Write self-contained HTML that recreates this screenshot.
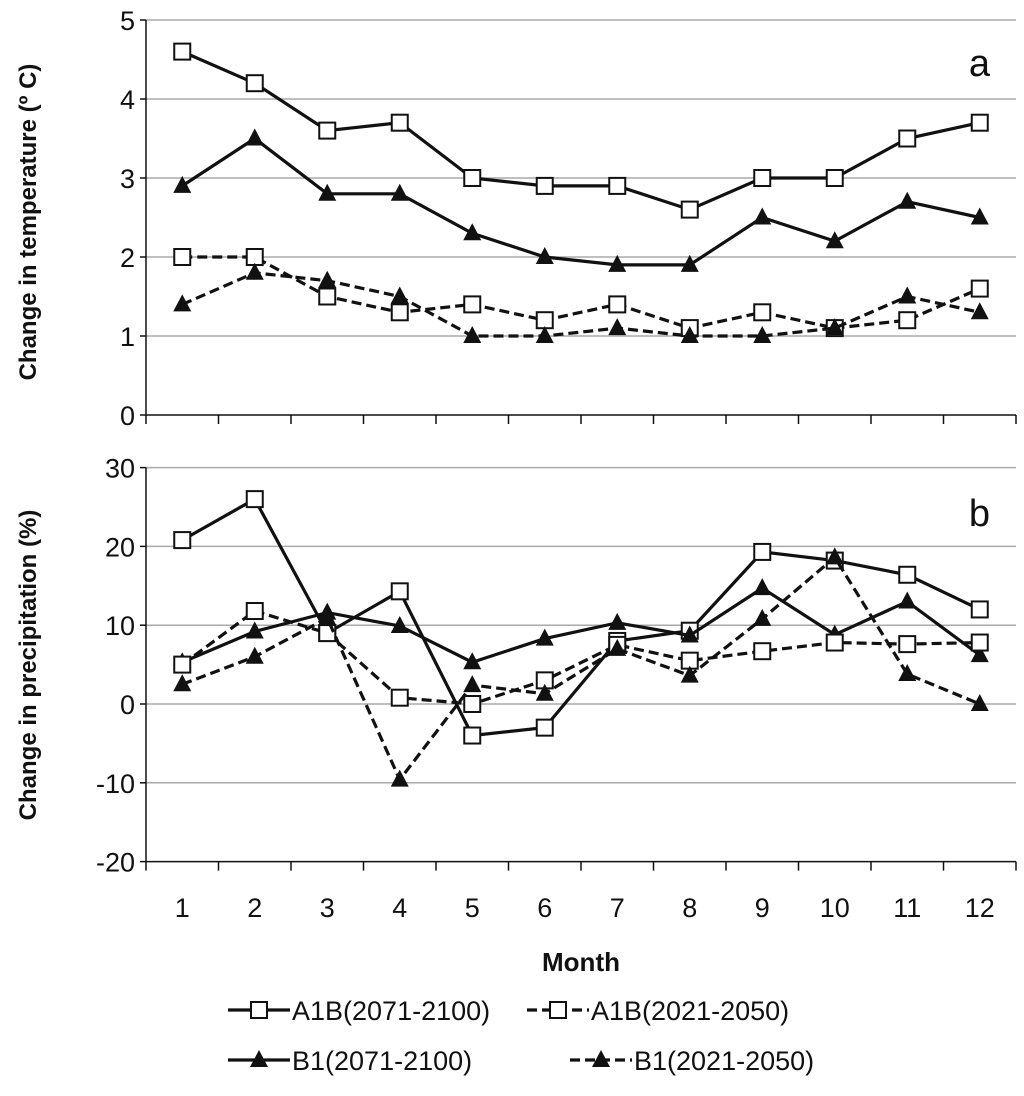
<!DOCTYPE html>
<html><head><meta charset="utf-8"><style>
body{margin:0;background:#fff}
text{font-family:"Liberation Sans",sans-serif;fill:#111}
</style></head><body>
<svg id="c" width="1024" height="1091"></svg>
<script>
const months=[1,2,3,4,5,6,7,8,9,10,11,12];
const tempTicks=[0,1,2,3,4,5];
const precTicks=[-20,-10,0,10,20,30];
const tA1B2071=[4.6,4.2,3.6,3.7,3.0,2.9,2.9,2.6,3.0,3.0,3.5,3.7];
const tB12071=[2.9,3.5,2.8,2.8,2.3,2.0,1.9,1.9,2.5,2.2,2.7,2.5];
const tA1B2021=[2.0,2.0,1.5,1.3,1.4,1.2,1.4,1.1,1.3,1.1,1.2,1.6];
const tB12021=[1.4,1.8,1.7,1.5,1.0,1.0,1.1,1.0,1.0,1.1,1.5,1.3];
const pA1B2071=[20.8,26,9,14.3,-4,-3,8,9.3,19.3,18.2,16.4,12];
const pA1B2021=[5,11.8,9,0.8,0,3,7.5,5.5,6.7,7.8,7.6,7.8];
const pB12071=[5.3,9.2,11.6,9.9,5.3,8.3,10.3,8.7,14.7,8.8,13,6.2];
const pB12021=[2.5,6,10.9,-9.6,2.4,1.3,7,3.6,10.8,18.6,3.8,0];
const NS="http://www.w3.org/2000/svg",svg=document.getElementById('c');
function el(t,a,p){const e=document.createElementNS(NS,t);for(const k in a)e.setAttribute(k,a[k]);(p||svg).appendChild(e);return e;}
const L=146,R=1016,cw=(R-L)/12;
const x=i=>L+cw*(i+0.5);
const yT=v=>415-v*79, yP=v=>704-v*7.88;
function panel(name,ticks,y,series,letter,ly,title,ty){
 const g=el('g',{});
 
 
 ticks.forEach(t=>{
  if(t!==ticks[0]){const gl=el('line',{x1:L,x2:R,y1:y(t),y2:y(t),stroke:'#aaa','stroke-width':1.5},g);
   }
  el('line',{x1:L-6,x2:L,y1:y(t),y2:y(t),stroke:'#111','stroke-width':1.5},g);
  const tx=el('text',{x:L-11,y:y(t)+10,'text-anchor':'end','font-size':27},g);tx.textContent=t;
  
 });
 const b=ticks[0];
 el('line',{x1:L,x2:L,y1:y(ticks[ticks.length-1]),y2:y(b),stroke:'#111','stroke-width':1.5},g);
 el('line',{x1:L,x2:R,y1:y(b),y2:y(b),stroke:'#111','stroke-width':1.5},g);
 for(let i=0;i<=12;i++)el('line',{x1:L+cw*i,x2:L+cw*i,y1:y(b),y2:y(b)+9,stroke:'#111','stroke-width':1.5},g);
 series.forEach(s=>{
  const sg=el('g',{},g);
  
  el('polyline',{points:s.d.map((v,i)=>x(i)+','+y(v)).join(' '),fill:'none',stroke:'#111','stroke-width':3.2,'stroke-dasharray':s.dash?'10,5':'none'},sg);
  s.d.forEach((v,i)=>marker(s.m,x(i),y(v),sg));
 });
 const lt=el('text',{x:990,y:ly,'text-anchor':'end','font-size':38},g);lt.textContent=letter;
 
 const yt=el('text',{x:0,y:0,'text-anchor':'middle','font-size':24,'font-weight':'bold',transform:`translate(36,${ty}) rotate(-90)`},g);yt.textContent=title;
 
}
function marker(m,cx,cy,p){
 if(m==='sq'){const r=el('rect',{x:cx-8,y:cy-8,width:16,height:16,fill:'#fff',stroke:'#111','stroke-width':2},p);}
 else{const t=el('polygon',{points:`${cx},${cy-10} ${cx-9},${cy+7} ${cx+9},${cy+7}`,fill:'#111'},p);}
}
panel('temperature',tempTicks,yT,[
 {n:'series-a1b-2071',d:tA1B2071,m:'sq'},{n:'series-b1-2071',d:tB12071,m:'tri'},
 {n:'series-a1b-2021',d:tA1B2021,m:'sq',dash:1},{n:'series-b1-2021',d:tB12021,m:'tri',dash:1}],'a',76,'Change in temperature  (º C)',222);
panel('precipitation',precTicks,yP,[
 {n:'series-a1b-2071',d:pA1B2071,m:'sq'},{n:'series-b1-2071',d:pB12071,m:'tri'},
 {n:'series-a1b-2021',d:pA1B2021,m:'sq',dash:1},{n:'series-b1-2021',d:pB12021,m:'tri',dash:1}],'b',526,'Change in precipitation (%)',665);
months.forEach((m,i)=>{const t=el('text',{x:x(i),y:917,'text-anchor':'middle','font-size':27});t.textContent=m;
 });
const xt=el('text',{x:581,y:971,'text-anchor':'middle','font-size':26,'font-weight':'bold'});xt.textContent='Month';

[[228,1010,'sq',0,'A1B(2071-2100)'],[527,1010,'sq',1,'A1B(2021-2050)'],[228,1060,'tri',0,'B1(2071-2100)'],[570,1060,'tri',1,'B1(2021-2050)']].forEach(e=>{
 const g=el('g',{});
 el('line',{x1:e[0],x2:e[0]+62,y1:e[1],y2:e[1],stroke:'#111','stroke-width':3.2,'stroke-dasharray':e[3]?'10,5':'none'},g);
 marker(e[2],e[0]+31,e[1],g);
 const t=el('text',{x:e[0]+64,y:e[1]+10,'font-size':27},g);t.textContent=e[4];
});
</script></body></html>
